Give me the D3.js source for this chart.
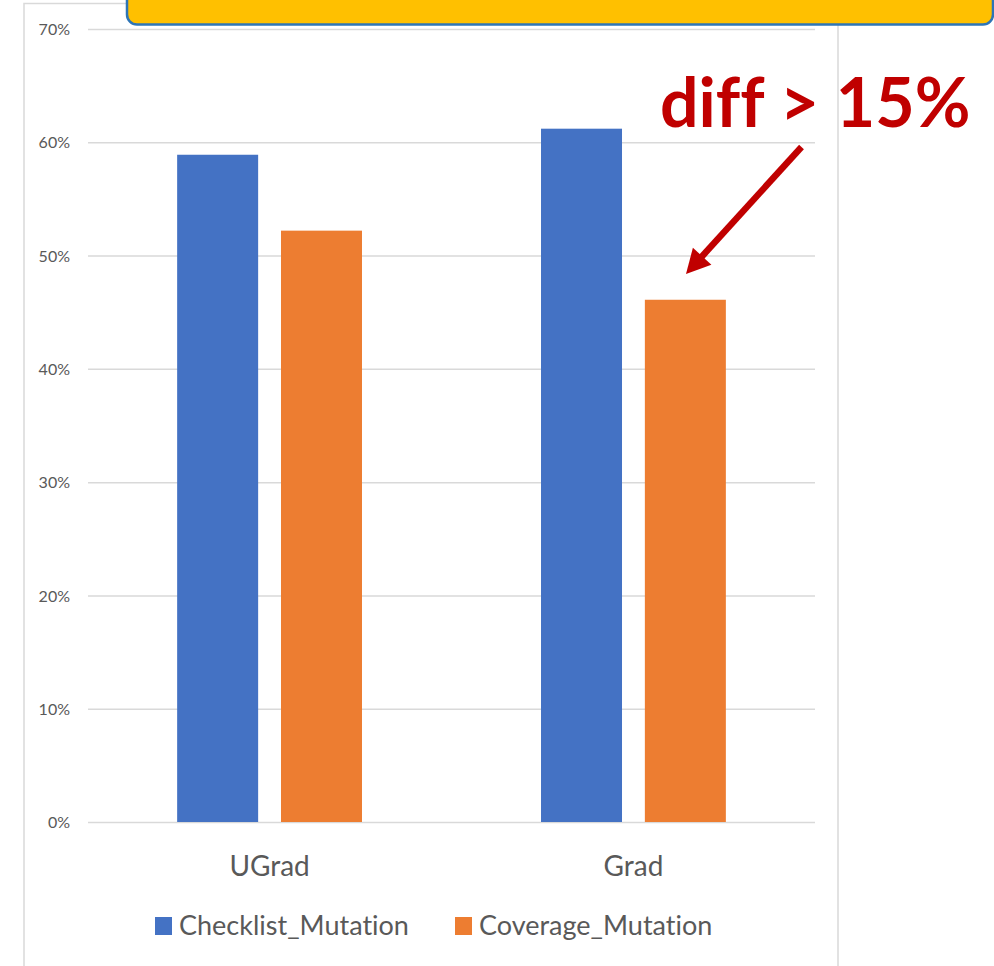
<!DOCTYPE html>
<html>
<head>
<meta charset="utf-8">
<script src="https://cdn.jsdelivr.net/npm/d3@7"></script>
<style>
  html, body { margin: 0; padding: 0; background: #fff; }
  svg { display: block; }
  text { font-variant-ligatures: none; font-feature-settings: "liga" 0, "dlig" 0; }
</style>
</head>
<body>
<script>
// Mutation score by student group
const categories = ["UGrad", "Grad"];
const seriesNames = ["Checklist_Mutation", "Coverage_Mutation"];
const checklistMutation = [0.589, 0.612];
const coverageMutation = [0.522, 0.461];
const tickValues = [0, 0.1, 0.2, 0.3, 0.4, 0.5, 0.6, 0.7];
const annotationText = "diff > 15%";

const colors = { Checklist_Mutation: "#4472C4", Coverage_Mutation: "#ED7D31" };
const seriesValues = { Checklist_Mutation: checklistMutation, Coverage_Mutation: coverageMutation };

const W = 994, H = 966;
const plot = { left: 88, right: 815, top: 29, bottom: 822 };
const font = "Lato, 'Open Sans', sans-serif";

const svg = d3.select("body").append("svg").attr("width", W).attr("height", H);

// chart area frame
svg.append("rect")
  .attr("x", 24).attr("y", 3.5)
  .attr("width", 814).attr("height", H + 20)
  .attr("fill", "#fff").attr("stroke", "#d9d9d9").attr("stroke-width", 1.5);

const y = d3.scaleLinear().domain([0, 0.7]).range([plot.bottom, plot.top]);
const x0 = d3.scaleBand().domain(categories).range([plot.left, plot.right])
  .paddingInner(0.492).paddingOuter(0.245);
const x1 = d3.scaleBand().domain(seriesNames).range([0, x0.bandwidth()])
  .paddingInner(0.22).paddingOuter(0);

// gridlines + tick labels
const yAxis = d3.axisLeft(y).tickValues(tickValues).tickFormat(d3.format(".0%"))
  .tickSize(-(plot.right - plot.left)).tickPadding(18);
const ga = svg.append("g").attr("transform", `translate(${plot.left},0)`).call(yAxis);
ga.select(".domain").remove();
ga.selectAll(".tick line").attr("stroke", "#d9d9d9").attr("stroke-width", 1.5);
ga.selectAll(".tick text").attr("fill", "#595959").attr("font-family", font)
  .attr("font-size", 16).attr("dy", "0.35em");

// bars
const rows = categories.map((c, i) => ({ cat: c, vals: seriesNames.map(s => ({ s, v: seriesValues[s][i] })) }));
const groups = svg.append("g").selectAll("g").data(rows).join("g")
  .attr("transform", d => `translate(${x0(d.cat)},0)`);
groups.selectAll("rect").data(d => d.vals).join("rect")
  .attr("x", d => x1(d.s))
  .attr("y", d => y(d.v))
  .attr("width", x1.bandwidth())
  .attr("height", d => y(0) - y(d.v))
  .attr("fill", d => colors[d.s]);

// category labels
const gx = svg.append("g").attr("transform", `translate(0,${plot.bottom})`)
  .call(d3.axisBottom(x0).tickSize(0).tickPadding(0));
gx.select(".domain").remove();
gx.selectAll(".tick text").attr("fill", "#595959").attr("font-family", font)
  .attr("font-size", 28).attr("y", 54).attr("dy", 0);

// legend
const legendX = { Checklist_Mutation: 155, Coverage_Mutation: 455 };
const lg = svg.append("g").selectAll("g").data(seriesNames).join("g")
  .attr("transform", d => `translate(${legendX[d]},917)`);
lg.append("rect").attr("width", 17).attr("height", 18).attr("fill", d => colors[d]);
lg.append("text").attr("x", 24).attr("y", 18)
  .attr("fill", "#595959").attr("font-family", font).attr("font-size", 27)
  .text(d => d);

// callout box at the top
svg.append("rect")
  .attr("x", 127).attr("y", -20).attr("width", 866).attr("height", 44.5)
  .attr("rx", 10).attr("fill", "#FFC000").attr("stroke", "#2E75B6").attr("stroke-width", 2.5);

// annotation
svg.append("text").attr("x", 660).attr("y", 127)
  .attr("fill", "#C00000").attr("font-family", font).attr("font-weight", 700)
  .attr("font-size", 68).text(annotationText);

// arrow from the annotation down to the Grad coverage bar
const arrowStart = [801.5, 147], arrowTip = [686, 274];
const headLen = 24, headHalf = 12.5;
const dx = arrowTip[0] - arrowStart[0], dy = arrowTip[1] - arrowStart[1];
const len = Math.hypot(dx, dy), ux = dx / len, uy = dy / len;
const base = [arrowTip[0] - headLen * ux, arrowTip[1] - headLen * uy];
svg.append("line")
  .attr("x1", arrowStart[0]).attr("y1", arrowStart[1])
  .attr("x2", base[0] + 2 * ux).attr("y2", base[1] + 2 * uy)
  .attr("stroke", "#C00000").attr("stroke-width", 6.5);
svg.append("path")
  .attr("d", d3.line()([
    arrowTip,
    [base[0] - uy * headHalf, base[1] + ux * headHalf],
    [base[0] + uy * headHalf, base[1] - ux * headHalf]
  ]) + "Z")
  .attr("fill", "#C00000");
</script>
</body>
</html>
